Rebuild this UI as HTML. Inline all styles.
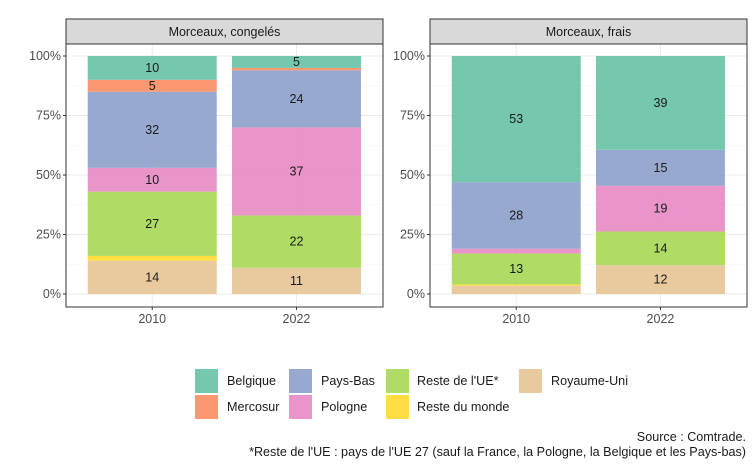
<!DOCTYPE html>
<html><head><meta charset="utf-8"><style>
body{margin:0;background:#fff;}
svg{display:block;font-family:"Liberation Sans",sans-serif;}
</style></head><body>
<svg id="chart" width="754" height="466" viewBox="0 0 754 466"></svg>
<script>
const years = ["2010","2022"];
const panelTitles = ["Morceaux, congelés","Morceaux, frais"];
const series = ["Royaume-Uni","Reste du monde","Reste de l'UE*","Pologne","Pays-Bas","Mercosur","Belgique"];
const colors = ["#e5c494","#ffd92f","#a6d854","#e78ac3","#8da0cb","#fc8d62","#66c2a5"];
// values per panel, per year, in series order (bottom -> top)
const congele2010 = [14,2,27,10,32,5,10];
const congele2022 = [11,0,22,37,24,1,5];
const frais2010 = [3.5,0.5,13,2,28,0,53];
const frais2022 = [12,0,14,19,15,0,39];
const panelData = [[congele2010,congele2022],[frais2010,frais2022]];
const yTicks = [0,0.25,0.5,0.75,1];
const yTickLabels = ["0%","25%","50%","75%","100%"];
const legendOrder = ["Belgique","Pays-Bas","Reste de l'UE*","Royaume-Uni","Mercosur","Pologne","Reste du monde"];

const NS="http://www.w3.org/2000/svg";
const svg=document.getElementById('chart');
function mk(tag,attrs,parent){const e=document.createElementNS(NS,tag);for(const k in attrs)e.setAttribute(k,attrs[k]);(parent||svg).appendChild(e);return e;}
const panels=[{x0:66,x1:383},{x0:430,x1:747}];
const plotTop=44, plotBot=307;
const yScale=v=>294-v*238;
const barW=129;
panels.forEach((p,pi)=>{
  const xScale=i=>p.x0+(p.x1-p.x0)*(i===0?0.272:0.727);
  const g=mk('g',{});
  
  
  const strip=mk('rect',{x:p.x0,y:19,width:p.x1-p.x0,height:25,fill:'#d9d9d9',stroke:'#333','stroke-width':1},g);
  
  
  const st=mk('text',{x:(p.x0+p.x1)/2,y:36,'text-anchor':'middle','font-size':12.5,fill:'#1a1a1a'},g);
  st.textContent=panelTitles[pi];
  
  
  for(let i=0;i<4;i++){const v=0.125+i*0.25;mk('line',{x1:p.x0,x2:p.x1,y1:yScale(v),y2:yScale(v),stroke:'#f0f0f0','stroke-width':0.6},g);}
  yTicks.forEach((v,i)=>{
    mk('line',{x1:p.x0,x2:p.x1,y1:yScale(v),y2:yScale(v),stroke:'#ebebeb','stroke-width':1},g);
    mk('line',{x1:p.x0-3,x2:p.x0,y1:yScale(v),y2:yScale(v),stroke:'#333'},g);
    const t=mk('text',{x:p.x0-5,y:yScale(v)+4,'text-anchor':'end','font-size':12.5,fill:'#4d4d4d'},g);
    t.textContent=yTickLabels[i];
    
    
  });
  years.forEach((yr,yi)=>{
    const cx=xScale(yi);
    mk('line',{x1:cx,x2:cx,y1:plotTop,y2:plotBot,stroke:'#ebebeb'},g);
  });
  years.forEach((yr,yi)=>{
    const cx=xScale(yi);
    const vals=panelData[pi][yi];
    const tot=vals.reduce((a,b)=>a+b,0);
    let cum=0;
    vals.forEach((v,si)=>{
      if(v<=0) return;
      const y0=yScale(cum/tot), y1=yScale((cum+v)/tot);
      const r=mk('rect',{x:cx-barW/2,y:y1,width:barW,height:y0-y1,fill:colors[si],'fill-opacity':0.9},g);
      
      
      if(v>=5){
        const t=mk('text',{x:cx,y:(y0+y1)/2+4,'text-anchor':'middle','font-size':12.5,fill:'#1a1a1a'},g);
        t.textContent=Math.round(v);
        
        
      }
      cum+=v;
    });
    mk('line',{x1:cx,x2:cx,y1:plotBot,y2:plotBot+3,stroke:'#333'},g);
    const xt=mk('text',{x:cx,y:plotBot+16,'text-anchor':'middle','font-size':12.5,fill:'#4d4d4d'},g);
    xt.textContent=yr;
    
    
  });
  mk('rect',{x:p.x0,y:plotTop,width:p.x1-p.x0,height:plotBot-plotTop,fill:'none',stroke:'#333','stroke-width':1},g);
});
// legend
const legX=[195,289,386,519], legTX=[227,321,417,551], legY=[369,395];
legendOrder.forEach((name,i)=>{
  const col=i%4,row=Math.floor(i/4);
  const g=mk('g',{});
  
  
  mk('rect',{x:legX[col],y:legY[row],width:23,height:24,fill:colors[series.indexOf(name)],'fill-opacity':0.9},g);
  const t=mk('text',{x:legTX[col],y:legY[row]+16,'font-size':12.6,fill:'#1a1a1a'},g);
  t.textContent=name;
});
const s1=mk('text',{x:746,y:441,'text-anchor':'end','font-size':12.6,fill:'#1a1a1a'});
s1.textContent="Source : Comtrade.";


const s2=mk('text',{x:746,y:456,'text-anchor':'end','font-size':12.6,fill:'#1a1a1a'});
s2.textContent="*Reste de l'UE : pays de l'UE 27 (sauf la France, la Pologne, la Belgique et les Pays-bas)";


</script>
</body></html>
